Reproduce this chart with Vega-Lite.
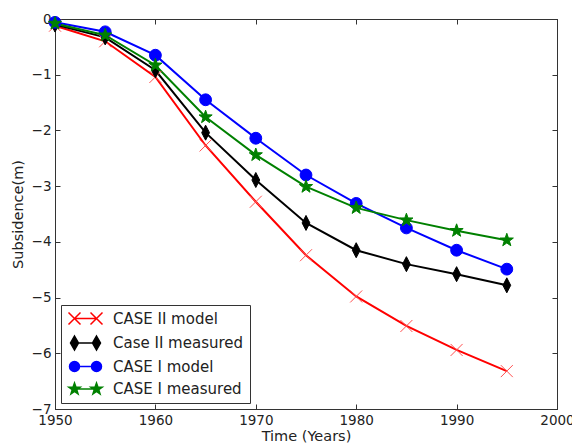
{
  "$schema": "https://vega.github.io/schema/vega-lite/v6.json",
  "width": 502,
  "height": 390,
  "autosize": {"type": "none"},
  "padding": {"left": 55, "top": 19, "right": 15, "bottom": 39},
  "background": "white",
  "config": {
    "font": "DejaVu Sans",
    "view": {"stroke": "#333", "strokeWidth": 1},
    "axis": {
      "grid": false,
      "domainColor": "#333",
      "tickColor": "#333",
      "labelColor": "#222",
      "titleColor": "#222",
      "labelFont": "DejaVu Sans",
      "titleFont": "DejaVu Sans",
      "labelFontSize": 13.5,
      "titleFontSize": 14.5,
      "titleFontWeight": "normal"
    }
  },
  "data": {
    "values": [
      {"year": 1950, "series": "CASE II model", "value": -0.12},
      {"year": 1955, "series": "CASE II model", "value": -0.4},
      {"year": 1960, "series": "CASE II model", "value": -1.04},
      {"year": 1965, "series": "CASE II model", "value": -2.27},
      {"year": 1970, "series": "CASE II model", "value": -3.28},
      {"year": 1975, "series": "CASE II model", "value": -4.24},
      {"year": 1980, "series": "CASE II model", "value": -4.98},
      {"year": 1985, "series": "CASE II model", "value": -5.51},
      {"year": 1990, "series": "CASE II model", "value": -5.94},
      {"year": 1995, "series": "CASE II model", "value": -6.32},
      {"year": 1950, "series": "Case II measured", "value": -0.1},
      {"year": 1955, "series": "Case II measured", "value": -0.33},
      {"year": 1960, "series": "Case II measured", "value": -0.92},
      {"year": 1965, "series": "Case II measured", "value": -2.04},
      {"year": 1970, "series": "Case II measured", "value": -2.89},
      {"year": 1975, "series": "Case II measured", "value": -3.66},
      {"year": 1980, "series": "Case II measured", "value": -4.15},
      {"year": 1985, "series": "Case II measured", "value": -4.4},
      {"year": 1990, "series": "Case II measured", "value": -4.58},
      {"year": 1995, "series": "Case II measured", "value": -4.78},
      {"year": 1950, "series": "CASE I model", "value": -0.06},
      {"year": 1955, "series": "CASE I model", "value": -0.23},
      {"year": 1960, "series": "CASE I model", "value": -0.65},
      {"year": 1965, "series": "CASE I model", "value": -1.45},
      {"year": 1970, "series": "CASE I model", "value": -2.14},
      {"year": 1975, "series": "CASE I model", "value": -2.8},
      {"year": 1980, "series": "CASE I model", "value": -3.31},
      {"year": 1985, "series": "CASE I model", "value": -3.75},
      {"year": 1990, "series": "CASE I model", "value": -4.15},
      {"year": 1995, "series": "CASE I model", "value": -4.49},
      {"year": 1950, "series": "CASE I measured", "value": -0.08},
      {"year": 1955, "series": "CASE I measured", "value": -0.29},
      {"year": 1960, "series": "CASE I measured", "value": -0.83},
      {"year": 1965, "series": "CASE I measured", "value": -1.76},
      {"year": 1970, "series": "CASE I measured", "value": -2.44},
      {"year": 1975, "series": "CASE I measured", "value": -3.01},
      {"year": 1980, "series": "CASE I measured", "value": -3.39},
      {"year": 1985, "series": "CASE I measured", "value": -3.61},
      {"year": 1990, "series": "CASE I measured", "value": -3.8},
      {"year": 1995, "series": "CASE I measured", "value": -3.97}
    ]
  },
  "layer": [
    {
      "mark": {"type": "line", "strokeWidth": 2},
      "encoding": {
        "x": {
          "field": "year", "type": "quantitative",
          "scale": {"domain": [1950, 2000], "nice": false, "zero": false},
          "axis": {"orient": "bottom", "values": [1950, 1960, 1970, 1980, 1990, 2000], "format": "d", "title": "Time (Years)", "tickSize": -5, "labelPadding": 9, "labelFlush": false, "titlePadding": 3, "labelOverlap": false}
        },
        "y": {
          "field": "value", "type": "quantitative",
          "scale": {"domain": [-7, 0], "nice": false, "zero": false},
          "axis": {"orient": "left", "values": [0, -1, -2, -3, -4, -5, -6, -7], "title": "Subsidence(m)", "tickSize": -5, "labelPadding": 9, "labelFlush": false, "titlePadding": 6, "labelOverlap": false}
        },
        "color": {
          "field": "series", "type": "nominal",
          "scale": {"domain": ["CASE II model", "Case II measured", "CASE I model", "CASE I measured"], "range": ["#ff0000", "#000000", "#0000ff", "#008000"]},
          "legend": {
            "orient": "bottom-left",
            "offset": 6,
            "title": null,
            "padding": 6,
            "strokeColor": "#333",
            "fillColor": "white",
            "cornerRadius": 0,
            "labelFont": "DejaVu Sans",
            "labelFontSize": 15,
            "labelColor": "#222",
            "symbolSize": 100,
            "symbolOffset": 11,
            "labelOffset": 20,
            "rowPadding": 4.5,
            "symbolStrokeWidth": 1.5,
            "encoding": {
              "symbols": {
                "shape": {"value": {"expr": "datum.value == 'CASE II model' ? 'M-2.2,0L2.2,0M-3.4,-1.2L-1,1.2M-3.4,1.2L-1,-1.2M1,-1.2L3.4,1.2M1,1.2L3.4,-1.2' : datum.value == 'Case II measured' ? 'M-2.2,0L2.2,0M-2.2,-1.4L-1.4,0L-2.2,1.4L-3,0ZM2.2,-1.4L3,0L2.2,1.4L1.4,0Z' : datum.value == 'CASE I model' ? 'M-2.2,0L2.2,0M-1.2,0A1,1,0,1,1,-3.2,0A1,1,0,1,1,-1.2,0ZM3.2,0A1,1,0,1,1,1.2,0A1,1,0,1,1,3.2,0Z' : 'M-2.2,0L2.2,0M-2.2,-1.2L-1.918,-0.388L-1.059,-0.371L-1.743,0.148L-1.495,0.971L-2.2,0.48L-2.905,0.971L-2.657,0.148L-3.341,-0.371L-2.482,-0.388ZM2.2,-1.2L2.482,-0.388L3.341,-0.371L2.657,0.148L2.905,0.971L2.2,0.48L1.495,0.971L1.743,0.148L1.059,-0.371L1.918,-0.388Z'"}},
                "fill": {"value": {"expr": "datum.value == 'CASE II model' ? 'transparent' : datum.value == 'Case II measured' ? '#000000' : datum.value == 'CASE I model' ? '#0000ff' : '#008000'"}},
                "stroke": {"value": {"expr": "datum.value == 'CASE II model' ? '#ff0000' : datum.value == 'Case II measured' ? '#000000' : datum.value == 'CASE I model' ? '#0000ff' : '#008000'"}},
                "strokeWidth": {"value": 1.5},
                "size": {"value": 100},
                "opacity": {"value": 1}
              }
            }
          }
        }
      }
    },
    {
      "transform": [{"filter": "datum.series == 'CASE II model'"}],
      "mark": {"type": "point", "filled": false, "size": 144, "strokeWidth": 1, "opacity": 1, "stroke": "#ff5050", "shape": "M-1,-1L1,1M-1,1L1,-1"},
      "encoding": {
        "x": {
          "field": "year", "type": "quantitative",
          "axis": {"orient": "top", "values": [1950, 1960, 1970, 1980, 1990, 2000], "labels": false, "title": null, "tickSize": -5}
        },
        "y": {
          "field": "value", "type": "quantitative",
          "axis": {"orient": "right", "values": [0, -1, -2, -3, -4, -5, -6, -7], "labels": false, "title": null, "tickSize": -5}
        }
      }
    },
    {
      "transform": [{"filter": "datum.series == 'Case II measured'"}],
      "mark": {"type": "point", "filled": true, "size": 144, "strokeWidth": 1, "opacity": 1, "fill": "#000000", "stroke": "#000000", "shape": "M0,-1.25L0.65,0L0,1.25L-0.65,0Z"},
      "encoding": {
        "x": {"field": "year", "type": "quantitative", "axis": null},
        "y": {"field": "value", "type": "quantitative", "axis": null}
      }
    },
    {
      "transform": [{"filter": "datum.series == 'CASE I model'"}],
      "mark": {"type": "point", "filled": true, "size": 140, "strokeWidth": 1, "opacity": 1, "fill": "#0000ff", "stroke": "#0000ff", "shape": "circle"},
      "encoding": {
        "x": {"field": "year", "type": "quantitative", "axis": null},
        "y": {"field": "value", "type": "quantitative", "axis": null}
      }
    },
    {
      "transform": [{"filter": "datum.series == 'CASE I measured'"}],
      "mark": {"type": "point", "filled": true, "size": 144, "strokeWidth": 1, "opacity": 1, "fill": "#008000", "stroke": "#008000", "shape": "M0,-1.15L0.27,-0.372L1.094,-0.355L0.437,0.142L0.676,0.93L0,0.46L-0.676,0.93L-0.437,0.142L-1.094,-0.355L-0.27,-0.372Z"},
      "encoding": {
        "x": {"field": "year", "type": "quantitative", "axis": null},
        "y": {"field": "value", "type": "quantitative", "axis": null}
      }
    }
  ],
  "resolve": {"axis": {"x": "independent", "y": "independent"}}
}
